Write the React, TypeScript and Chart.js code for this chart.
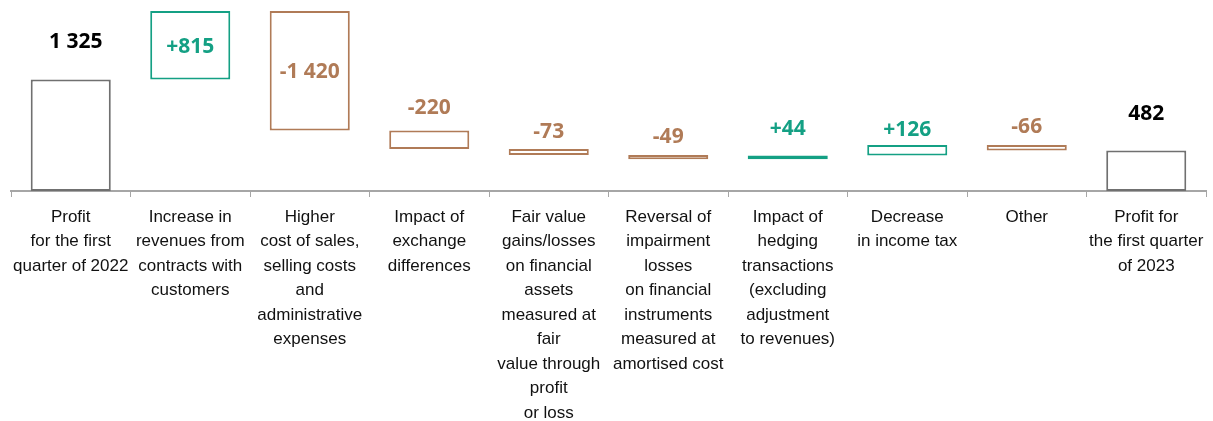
import React, { useEffect, useRef } from "react";
import { Chart, registerables } from "chart.js";

Chart.register(...registerables);

const categories: string[][] = [
  ["Profit", "for the first", "quarter of 2022"],
  ["Increase in", "revenues from", "contracts with", "customers"],
  ["Higher", "cost of sales,", "selling costs", "and", "administrative", "expenses"],
  ["Impact of", "exchange", "differences"],
  ["Fair value", "gains/losses", "on financial", "assets", "measured at", "fair", "value through", "profit", "or loss"],
  ["Reversal of", "impairment", "losses", "on financial", "instruments", "measured at", "amortised cost"],
  ["Impact of", "hedging", "transactions", "(excluding", "adjustment", "to revenues)"],
  ["Decrease", "in income tax"],
  ["Other"],
  ["Profit for", "the first quarter", "of 2023"],
];

const startValue = 1325;
const changes = [815, -1420, -220, -73, -49, 44, 126, -66];
const endValue = 482;
const yMax = 2270;

// distance (px) from bar top to label centre; null = centred inside the bar
const labelGap: (number | null)[] = [37, null, null, 22, 17, 18, 26, 15, 18, 36];
// small horizontal nudges of the value labels (px)
const labelShift: number[] = [5, 0, 0, 0, 0, 0, 0, 0, 0, 0];

const TEAL = "#14a084";
const BROWN = "#b07b57";
const GREY = "#707070";
const TOTAL_TEXT = "#000000";

const fmt = (n: number) =>
  Math.abs(n).toString().replace(/\B(?=(\d{3})+(?!\d))/g, " ");

export default function App() {
  const ref = useRef<HTMLCanvasElement | null>(null);

  useEffect(() => {
    if (!ref.current) return;

    const ranges: [number, number][] = [[0, startValue]];
    let run = startValue;
    changes.forEach((c) => {
      ranges.push([run, run + c]);
      run += c;
    });
    ranges.push([0, endValue]);

    const borderColors = [GREY, ...changes.map((c) => (c >= 0 ? TEAL : BROWN)), GREY];
    const textColors = [TOTAL_TEXT, ...changes.map((c) => (c >= 0 ? TEAL : BROWN)), TOTAL_TEXT];
    const texts = [
      fmt(startValue),
      ...changes.map((c) => (c >= 0 ? "+" : "-") + fmt(c)),
      fmt(endValue),
    ];

    const valueLabels = {
      id: "valueLabels",
      afterDatasetsDraw(chart: any) {
        const meta = chart.getDatasetMeta(0);
        const ctx = chart.ctx;
        ctx.save();
        ctx.font = "bold 21px 'Open Sans'";
        ctx.textAlign = "center";
        ctx.textBaseline = "middle";
        meta.data.forEach((el: any, i: number) => {
          const { x, y, base } = el.getProps(["x", "y", "base"], true);
          const top = Math.min(y, base);
          const bottom = Math.max(y, base);
          const gap = labelGap[i];
          const ly = gap == null ? (top + bottom) / 2 + 1.5 : top - gap;
          ctx.fillStyle = textColors[i];
          ctx.fillText(texts[i], x + labelShift[i], ly);
        });
        ctx.restore();
      },
    };

    const chart = new Chart(ref.current, {
      type: "bar",
      data: {
        labels: categories as any,
        datasets: [
          {
            data: ranges as any,
            backgroundColor: "#ffffff",
            borderColor: borderColors,
            borderWidth: 2,
            borderSkipped: false,
            barPercentage: 0.67,
            categoryPercentage: 1,
          },
        ],
      },
      options: {
        animation: false,
        responsive: false,
        devicePixelRatio: 1,
        layout: { padding: { left: 11, right: 7, top: 0, bottom: 0 } },
        plugins: {
          legend: { display: false },
          tooltip: { enabled: false },
        },
        scales: {
          x: {
            grid: {
              offset: true,
              drawOnChartArea: false,
              drawTicks: true,
              tickLength: 6,
              color: "#a6a6a6",
              lineWidth: 1,
            },
            border: { display: true, color: "#a6a6a6", width: 2 },
            ticks: {
              autoSkip: false,
              maxRotation: 0,
              minRotation: 0,
              padding: 8,
              color: "#111111",
              font: {
                family: "'Liberation Sans', Arial, sans-serif",
                size: 17,
                lineHeight: "24.5px",
              },
            },
            afterFit: (s: any) => {
              s.height = 230;
            },
          },
          y: {
            display: false,
            min: 0,
            max: yMax,
          },
        },
      },
      plugins: [valueLabels],
    });

    return () => chart.destroy();
  }, []);

  return (
    <div style={{ position: "absolute", left: 0, top: 0, width: 1213, height: 421 }}>
      <canvas ref={ref} width={1213} height={421} />
    </div>
  );
}
